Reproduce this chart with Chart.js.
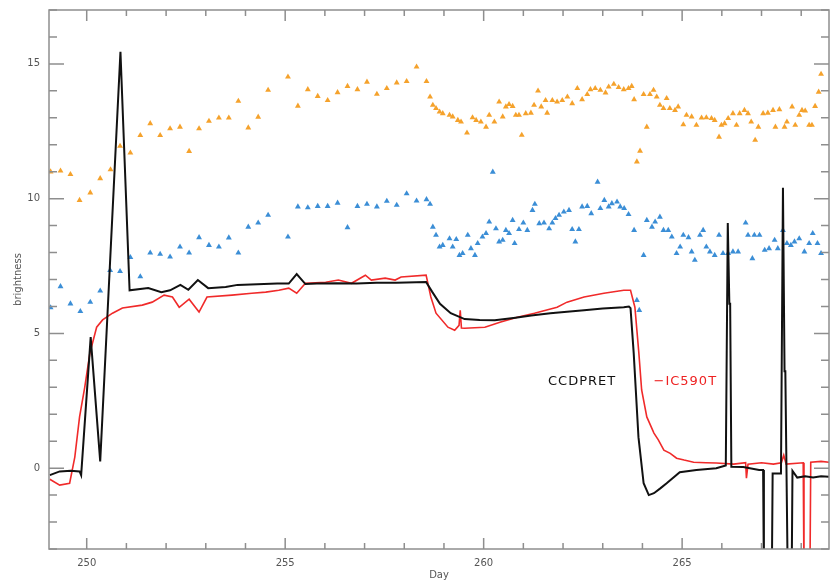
<!DOCTYPE html>
<html>
<head>
<meta charset="utf-8">
<script src="https://cdn.jsdelivr.net/npm/chart.js@4"></script>
<style>
    html, body { margin: 0; padding: 0; background: #fff; }
</style>
</head>
<body>
<canvas id="myChart" width="833" height="582"></canvas>
<script>
'use strict';

// tick labels
const xTicks = [250, 255, 260, 265];
const yTicks = [0, 5, 10, 15];

// orange triangles
const orangeDays = [249.09, 249.34, 249.59, 249.82, 250.09, 250.34, 250.60, 250.84, 251.10, 251.35,
    251.60, 251.85, 252.10, 252.35, 252.58, 252.83, 253.08, 253.33, 253.58, 253.82,
    254.07, 254.32, 254.57, 255.07, 255.32, 255.57, 255.82, 256.07, 256.32, 256.57,
    256.82, 257.06, 257.31, 257.56, 257.81, 258.06, 258.31, 258.56, 258.65, 258.72,
    258.80, 258.89, 258.97, 259.14, 259.22, 259.35, 259.43, 259.58, 259.72, 259.81,
    259.93, 260.06, 260.14, 260.27, 260.39, 260.48, 260.56, 260.64, 260.73, 260.81,
    260.89, 260.96, 261.06, 261.19, 261.27, 261.37, 261.45, 261.56, 261.60, 261.73,
    261.85, 261.98, 262.11, 262.23, 262.36, 262.48, 262.61, 262.69, 262.81, 262.94,
    263.07, 263.15, 263.28, 263.40, 263.53, 263.65, 263.73, 263.79, 263.86, 263.94,
    264.03, 264.11, 264.19, 264.28, 264.36, 264.44, 264.53, 264.61, 264.69, 264.82,
    264.90, 265.03, 265.11, 265.24, 265.36, 265.49, 265.61, 265.74, 265.82, 265.93,
    265.99, 266.07, 266.16, 266.28, 266.37, 266.45, 266.57, 266.66, 266.74, 266.84,
    266.92, 267.04, 267.16, 267.29, 267.35, 267.45, 267.58, 267.64, 267.77, 267.85,
    267.95, 268.02, 268.10, 268.20, 268.27, 268.35, 268.44, 268.50];
const orangeVals = [11.0, 11.03, 10.9, 9.94, 10.22, 10.75, 11.08, 11.95, 11.7, 12.35,
    12.79, 12.35, 12.6, 12.66, 11.76, 12.6, 12.88, 13.0, 13.0, 13.62,
    12.63, 13.03, 14.03, 14.52, 13.44, 14.05, 13.80, 13.65, 13.94, 14.17,
    14.05, 14.33, 13.88, 14.09, 14.30, 14.35, 14.89, 14.35, 13.78, 13.47,
    13.35, 13.22, 13.16, 13.10, 13.04, 12.91, 12.85, 12.44, 13.01, 12.91,
    12.85, 12.66, 13.10, 12.85, 13.59, 13.04, 13.41, 13.50, 13.43, 13.10,
    13.10, 12.36, 13.16, 13.18, 13.47, 14.0, 13.41, 13.65, 13.18, 13.65,
    13.59, 13.65, 13.78, 13.53, 14.09, 13.68, 13.87, 14.05, 14.09, 14.03,
    13.93, 14.15, 14.25, 14.13, 14.05, 14.09, 14.17, 13.68, 11.37, 11.77,
    13.87, 12.66, 13.87, 14.03, 13.78, 13.47, 13.35, 13.72, 13.35, 13.28,
    13.41, 12.75, 13.10, 13.04, 12.73, 13.0, 13.01, 12.98, 12.91, 12.29,
    12.73, 12.79, 12.98, 13.16, 12.73, 13.16, 13.28, 13.16, 12.85, 12.17,
    12.66, 13.16, 13.18, 13.28, 12.66, 13.31, 12.66, 12.85, 13.41, 12.73,
    13.10, 13.28, 13.26, 12.73, 12.73, 13.43, 13.96, 14.62];

// blue triangles
const blueDays = [249.09, 249.34, 249.59, 249.84, 250.09, 250.34, 250.59, 250.84, 251.10, 251.35,
    251.60, 251.85, 252.10, 252.35, 252.58, 252.83, 253.08, 253.33, 253.58, 253.82,
    254.07, 254.32, 254.57, 255.07, 255.32, 255.57, 255.82, 256.07, 256.32, 256.57,
    256.82, 257.06, 257.31, 257.56, 257.81, 258.06, 258.31, 258.56, 258.65, 258.72,
    258.80, 258.89, 258.97, 259.14, 259.22, 259.31, 259.39, 259.47, 259.60, 259.68,
    259.78, 259.85, 259.97, 260.06, 260.14, 260.23, 260.31, 260.39, 260.48, 260.56,
    260.64, 260.73, 260.78, 260.89, 261.00, 261.10, 261.23, 261.29, 261.40, 261.52,
    261.65, 261.73, 261.81, 261.90, 262.02, 262.15, 262.23, 262.31, 262.40, 262.48,
    262.61, 262.71, 262.87, 262.94, 263.04, 263.15, 263.23, 263.36, 263.44, 263.54,
    263.65, 263.79, 263.86, 263.92, 264.03, 264.11, 264.24, 264.32, 264.44, 264.53,
    264.65, 264.74, 264.86, 264.95, 265.03, 265.16, 265.24, 265.32, 265.45, 265.53,
    265.61, 265.70, 265.82, 265.93, 266.03, 266.16, 266.28, 266.41, 266.60, 266.66,
    266.77, 266.82, 266.95, 267.08, 267.19, 267.33, 267.41, 267.54, 267.64, 267.74,
    267.83, 267.95, 268.08, 268.20, 268.29, 268.41, 268.50];
const blueVals = [5.96, 6.74, 6.10, 5.82, 6.16, 6.58, 7.34, 7.30, 7.82, 7.11,
    7.99, 7.94, 7.84, 8.21, 7.99, 8.56, 8.27, 8.21, 8.55, 7.99,
    8.95, 9.10, 9.39, 8.58, 9.70, 9.67, 9.72, 9.72, 9.84, 8.93,
    9.72, 9.80, 9.70, 9.91, 9.76, 10.19, 9.92, 9.97, 9.80, 8.95,
    8.65, 8.21, 8.27, 8.52, 8.21, 8.49, 7.90, 7.97, 8.65, 8.15,
    7.90, 8.34, 8.58, 8.71, 9.14, 10.99, 8.89, 8.40, 8.46, 8.83,
    8.71, 9.20, 8.34, 8.86, 9.10, 8.83, 9.57, 9.80, 9.08, 9.10,
    8.89, 9.10, 9.27, 9.39, 9.51, 9.57, 8.86, 8.40, 8.86, 9.70,
    9.72, 9.45, 10.62, 9.64, 9.94, 9.70, 9.82, 9.88, 9.70, 9.64,
    9.42, 8.83, 6.23, 5.86, 7.90, 9.20, 8.95, 9.14, 9.32, 8.83,
    8.83, 8.58, 7.97, 8.21, 8.65, 8.56, 8.03, 7.72, 8.65, 8.83,
    8.21, 8.03, 7.90, 8.65, 7.97, 7.97, 8.03, 8.03, 9.10, 8.65,
    7.78, 8.65, 8.65, 8.09, 8.15, 8.46, 8.15, 8.83, 8.34, 8.27,
    8.40, 8.52, 8.03, 8.34, 8.71, 8.34, 7.97];

// CCDPRET (black line)
const ccdDays = [249.07, 249.32, 249.6, 249.82, 249.86, 250.1, 250.34, 250.85, 251.08, 251.55,
    251.88, 252.1, 252.36, 252.56, 252.8, 253.06, 253.5, 253.8, 254.3, 254.8,
    255.09, 255.29, 255.51, 255.8, 256.3, 256.8, 257.3, 257.8, 258.3, 258.55,
    258.7, 258.9, 259.17, 259.52, 259.9, 260.28, 260.8, 261.2, 261.68, 262.1,
    262.53, 263.0, 263.53, 263.66, 263.7, 263.78, 263.9, 264.03, 264.16, 264.29,
    264.45, 264.61, 264.94, 265.36, 265.86, 266.1, 266.15, 266.19, 266.21, 266.24,
    266.54, 266.94, 267.04, 267.06, 267.26, 267.28, 267.49, 267.54, 267.58, 267.6,
    267.66, 267.76, 267.78, 267.9, 268.1, 268.3, 268.5, 268.7];
const ccdVals = [-0.26, -0.12, -0.1, -0.12, -0.26, 4.86, 0.25, 15.45, 6.6, 6.68,
    6.53, 6.6, 6.8, 6.62, 6.98, 6.68, 6.72, 6.8, 6.82, 6.85,
    6.85, 7.2, 6.83, 6.85, 6.86, 6.85, 6.88, 6.88, 6.9, 6.91,
    6.55, 6.1, 5.75, 5.53, 5.5, 5.49, 5.58, 5.66, 5.75, 5.8,
    5.86, 5.92, 5.97, 6.0, 5.94, 4.27, 1.15, -0.56, -1.0, -0.93,
    -0.75, -0.56, -0.15, -0.07, 0.0, 0.1, 9.1, 6.1, 6.1, 0.05,
    0.04, -0.07, -0.07, -4, -4, -0.2, -0.2, 10.4, 3.6, 3.6,
    -4, -4, -0.1, -0.35, -0.3, -0.35, -0.3, -0.32];

// IC590T (red line)
const icDays = [249.07, 249.32, 249.57, 249.7, 249.82, 249.95, 250.08, 250.25, 250.4, 250.65,
    250.9, 251.4, 251.65, 251.95, 252.16, 252.33, 252.58, 252.83, 253.03, 253.66,
    254.16, 254.51, 254.84, 255.09, 255.29, 255.51, 256.02, 256.34, 256.67, 257.02,
    257.17, 257.52, 257.77, 257.92, 258.55, 258.67, 258.8, 259.1, 259.27, 259.38,
    259.41, 259.44, 259.52, 260.03, 260.43, 260.85, 261.28, 261.85, 262.1, 262.53,
    263.03, 263.53, 263.7, 263.81, 263.91, 263.98, 264.11, 264.29, 264.4, 264.54,
    264.7, 264.86, 265.05, 265.29, 265.6, 265.86, 266.3, 266.6, 266.62, 266.66,
    267.0, 267.3, 267.5, 267.56, 267.62, 268.05, 268.07, 268.22, 268.24, 268.5, 268.7];
const icVals = [-0.41, -0.63, -0.56, 0.41, 1.9, 3.0, 4.27, 5.23, 5.5, 5.75,
    5.94, 6.05, 6.16, 6.42, 6.35, 5.97, 6.27, 5.79, 6.35, 6.42,
    6.49, 6.53, 6.6, 6.68, 6.49, 6.86, 6.9, 6.98, 6.86, 7.16,
    6.98, 7.05, 6.98, 7.09, 7.16, 6.35, 5.75, 5.23, 5.12, 5.3,
    5.86, 5.2, 5.19, 5.23, 5.42, 5.6, 5.75, 5.97, 6.16, 6.35,
    6.49, 6.6, 6.6, 5.97, 4.27, 2.9, 1.9, 1.3, 1.05, 0.67,
    0.55, 0.37, 0.3, 0.22, 0.2, 0.19, 0.15, 0.2, -0.37, 0.15,
    0.2, 0.15, 0.2, 0.48, 0.15, 0.2, -4, -4, 0.22, 0.25, 0.22];

function toPoints(xs, ys) {
    return xs.map(function (x, i) {
        return { x: x, y: ys[i] };
    });
}

// frame with inward ticks + curve labels
const framePlugin = {
    id: 'frame',
    afterDatasetsDraw(chart) {
        const ctx = chart.ctx;
        const a = chart.chartArea;
        const xs = chart.scales.x;
        const ys = chart.scales.y;
        ctx.save();
        ctx.strokeStyle = '#8e8e8e';
        ctx.lineWidth = 1.5;
        ctx.strokeRect(a.left, a.top, a.right - a.left, a.bottom - a.top);
        ctx.beginPath();
        for (let d = Math.ceil(xs.min); d <= xs.max; d++) {
            const px = xs.getPixelForValue(d);
            const len = d % 5 === 0 ? 11 : 6;
            ctx.moveTo(px, a.bottom);
            ctx.lineTo(px, a.bottom - len);
            ctx.moveTo(px, a.top);
            ctx.lineTo(px, a.top + len);
        }
        for (let v = Math.ceil(ys.min); v <= ys.max; v++) {
            const py = ys.getPixelForValue(v);
            const len = v % 5 === 0 ? 15 : 8;
            ctx.moveTo(a.left, py);
            ctx.lineTo(a.left + len, py);
            ctx.moveTo(a.right, py);
            ctx.lineTo(a.right - len, py);
        }
        ctx.stroke();

        ctx.font = '13px "DejaVu Sans"';
        ctx.letterSpacing = '1px';
        ctx.textBaseline = 'middle';
        ctx.textAlign = 'center';
        ctx.fillStyle = '#111';
        ctx.fillText('CCDPRET', xs.getPixelForValue(262.48), ys.getPixelForValue(3.22));
        ctx.fillStyle = '#ee2222';
        ctx.fillText('\u2212IC590T', xs.getPixelForValue(265.08), ys.getPixelForValue(3.22));
        ctx.restore();
    }
};

const config = {
    type: 'scatter',
    data: {
        datasets: [
            {
                label: 'CCDPRET',
                data: toPoints(ccdDays, ccdVals),
                showLine: true,
                borderColor: '#111111',
                borderWidth: 2,
                pointRadius: 0,
                tension: 0,
                order: 1,
            },
            {
                label: 'IC590T',
                data: toPoints(icDays, icVals),
                showLine: true,
                borderColor: '#f02a2a',
                borderWidth: 1.6,
                pointRadius: 0,
                tension: 0,
                order: 2,
            },
            {
                label: 'orange',
                data: toPoints(orangeDays, orangeVals),
                pointStyle: 'triangle',
                pointRadius: 3.4,
                backgroundColor: '#f5a22c',
                borderColor: '#f5a22c',
                borderWidth: 0,
                order: 3,
            },
            {
                label: 'blue',
                data: toPoints(blueDays, blueVals),
                pointStyle: 'triangle',
                pointRadius: 3.4,
                backgroundColor: '#3b8ed6',
                borderColor: '#3b8ed6',
                borderWidth: 0,
                order: 4,
            },
        ],
    },
    options: {
        responsive: false,
        animation: false,
        layout: { padding: { top: 10, right: 0, left: 0, bottom: 0 } },
        plugins: {
            legend: { display: false },
            tooltip: { enabled: false },
        },
        scales: {
            x: {
                type: 'linear',
                min: 249.05,
                max: 268.7,
                afterBuildTicks: function (scale) {
                    scale.ticks = xTicks.map(function (v) { return { value: v }; });
                },
                afterFit: function (scale) {
                    scale.height = 33;
                    scale.paddingLeft = 0;
                    scale.paddingRight = 0;
                },
                grid: { display: false, drawTicks: false },
                border: { display: false },
                ticks: {
                    padding: 8,
                    color: '#555',
                    font: { family: 'DejaVu Sans', size: 10 },
                    maxRotation: 0,
                    callback: function (v) { return String(v); },
                },
                title: {
                    display: true,
                    text: 'Day',
                    color: '#555',
                    font: { family: 'DejaVu Sans', size: 10 },
                    padding: { top: 0, bottom: 1 },
                },
            },
            y: {
                type: 'linear',
                min: -3,
                max: 17,
                afterBuildTicks: function (scale) {
                    scale.ticks = yTicks.map(function (v) { return { value: v }; });
                },
                afterFit: function (scale) {
                    scale.width = 49;
                    scale.paddingTop = 0;
                    scale.paddingBottom = 0;
                },
                grid: { display: false, drawTicks: false },
                border: { display: false },
                ticks: {
                    padding: 9,
                    color: '#555',
                    font: { family: 'DejaVu Sans', size: 10 },
                    callback: function (v) { return String(v); },
                },
                title: {
                    display: true,
                    text: 'brightness',
                    color: '#555',
                    font: { family: 'DejaVu Sans', size: 10 },
                    padding: { top: 12, bottom: 0 },
                },
            },
        },
    },
    plugins: [framePlugin],
};

const myChart = new Chart(document.getElementById('myChart'), config);
</script>
</body>
</html>
